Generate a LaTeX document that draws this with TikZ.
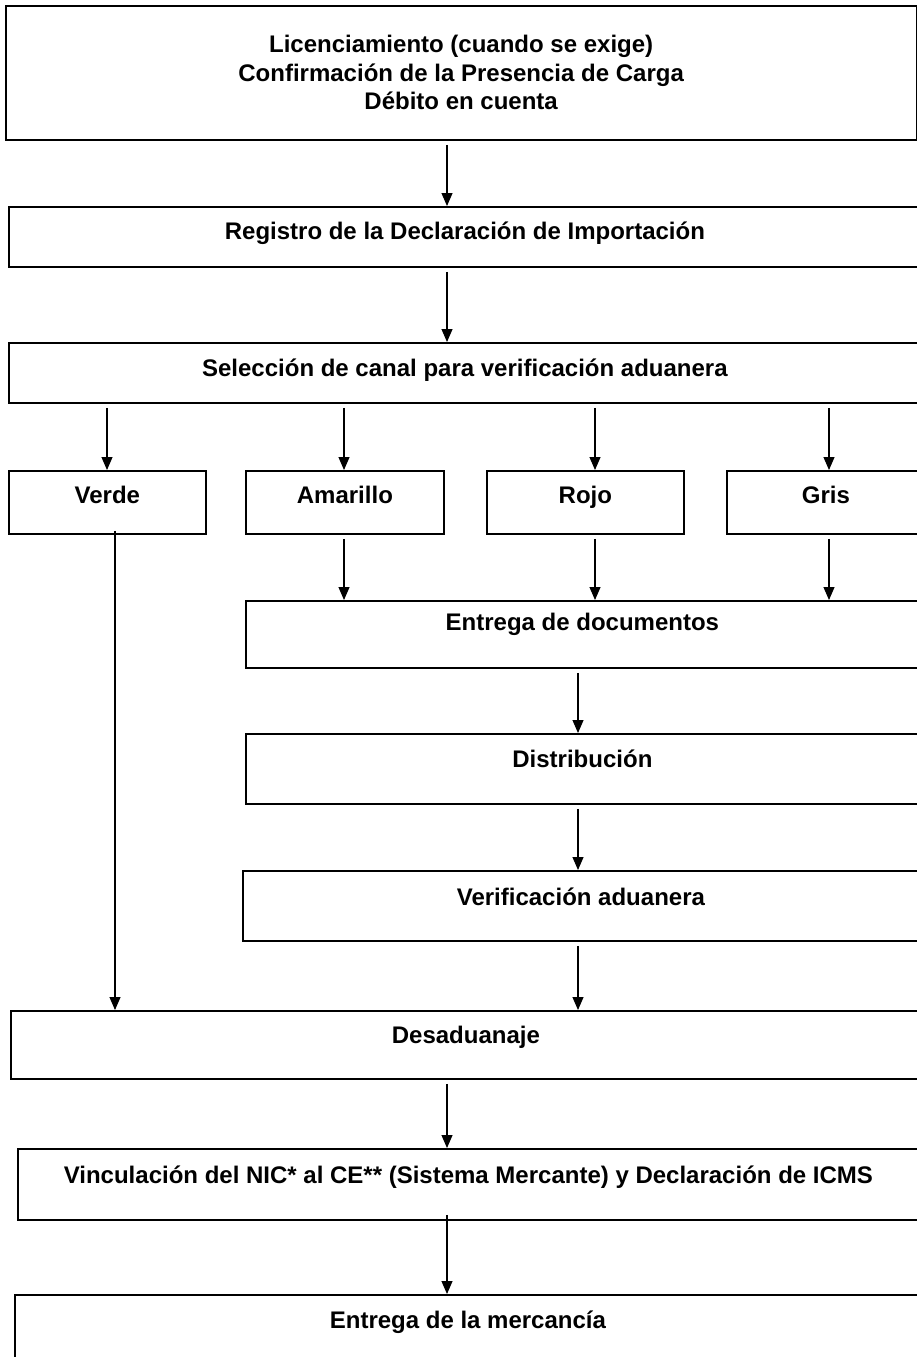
\documentclass[tikz,border=0pt]{standalone}
\usepackage{fontspec}
\usepackage{tikz}
\usetikzlibrary{arrows.meta}
\newfontfamily\lblfont{Liberation Sans}

\tikzset{
  box/.style={draw, line width=1.8pt, anchor=north west, inner sep=0pt,
    font=\lblfont\bfseries\fontsize{24}{28.5}\selectfont,
    text height=0.72em, text depth=#1},
  box/.default=6pt,
  bigbox/.style={draw, line width=1.8pt, anchor=north west, inner sep=0pt, align=center,
    font=\lblfont\bfseries\fontsize{24}{28.5}\selectfont},
  arr/.style={line width=1.1pt, -{Triangle[width=11pt,length=13pt]}, shorten <=4pt},
}

\begin{document}
\begin{tikzpicture}[x=1pt, y={(0pt,-1pt)}]
  \useasboundingbox (0,0) rectangle (917,1357);
  \clip (0,0) rectangle (917,1357);

  % columns of the arrows
  \coordinate (mid) at (447,0);
  \coordinate (cv) at (107,0);
  \coordinate (cvl) at (115,0);
  \coordinate (ca) at (344,0);
  \coordinate (cr) at (595,0);
  \coordinate (cg) at (829,0);
  \coordinate (cc) at (578,0);

  % Top
  \node[bigbox, minimum width=910.5, minimum height=134] (lic) at (5,5)
    {Licenciamiento (cuando se exige)\\Confirmación de la Presencia de Carga\\Débito en cuenta};
  % Registro
  \node[box=3pt, minimum width=912, minimum height=60] (reg) at (8,206)
    {Registro de la Declaración de Importación};
  % Seleccion
  \node[box=1pt, minimum width=912, minimum height=60] (sel) at (8,342)
    {Selección de canal para verificación aduanera};
  % - channels
  \node[box, minimum width=197, minimum height=63] (verde) at (8,470) {Verde};
  \node[box, minimum width=198, minimum height=63] (amar) at (245,470) {Amarillo};
  \node[box, minimum width=197, minimum height=63] (rojo) at (486,470) {Rojo};
  \node[box, minimum width=198, minimum height=63] (gris) at (726,470) {Gris};
  % - right column
  \node[box=16pt, minimum width=673, minimum height=67] (docs) at (245,600)
    {Entrega de documentos};
  \node[box=10pt, minimum width=673, minimum height=70] (dist) at (245,733)
    {Distribución};
  \node[box=8pt, minimum width=676, minimum height=70] (verif) at (242,870)
    {Verificación aduanera};
  % Desaduanaje
  \node[box=10pt, minimum width=910, minimum height=68] (desad) at (10,1010)
    {Desaduanaje};
  \node[box=10pt, minimum width=901, minimum height=71] (vinc) at (17,1148)
    {Vinculación del NIC* al CE** (Sistema Mercante) y Declaración de ICMS};
  \node[box=20pt, minimum width=906, minimum height=80] (merc) at (14,1294)
    {Entrega de la mercancía};

  % arrows
  \draw[arr] (lic.south -| mid) -- (reg.north -| mid);
  \draw[arr] (reg.south -| mid) -- (sel.north -| mid);
  \draw[arr] (sel.south -| cv) -- (verde.north -| cv);
  \draw[arr] (sel.south -| ca) -- (amar.north -| ca);
  \draw[arr] (sel.south -| cr) -- (rojo.north -| cr);
  \draw[arr] (sel.south -| cg) -- (gris.north -| cg);
  \draw[arr] (amar.south -| ca) -- (docs.north -| ca);
  \draw[arr] (rojo.south -| cr) -- (docs.north -| cr);
  \draw[arr] (gris.south -| cg) -- (docs.north -| cg);
  \draw[arr] (docs.south -| cc) -- (dist.north -| cc);
  \draw[arr] (dist.south -| cc) -- (verif.north -| cc);
  \draw[arr] (verif.south -| cc) -- (desad.north -| cc);
  \draw[arr, shorten <=-4pt] (verde.south -| cvl) -- (desad.north -| cvl);
  \draw[arr] (desad.south -| mid) -- (vinc.north -| mid);
  \draw[arr, shorten <=-6pt] (vinc.south -| mid) -- (merc.north -| mid);
\end{tikzpicture}
\end{document}
